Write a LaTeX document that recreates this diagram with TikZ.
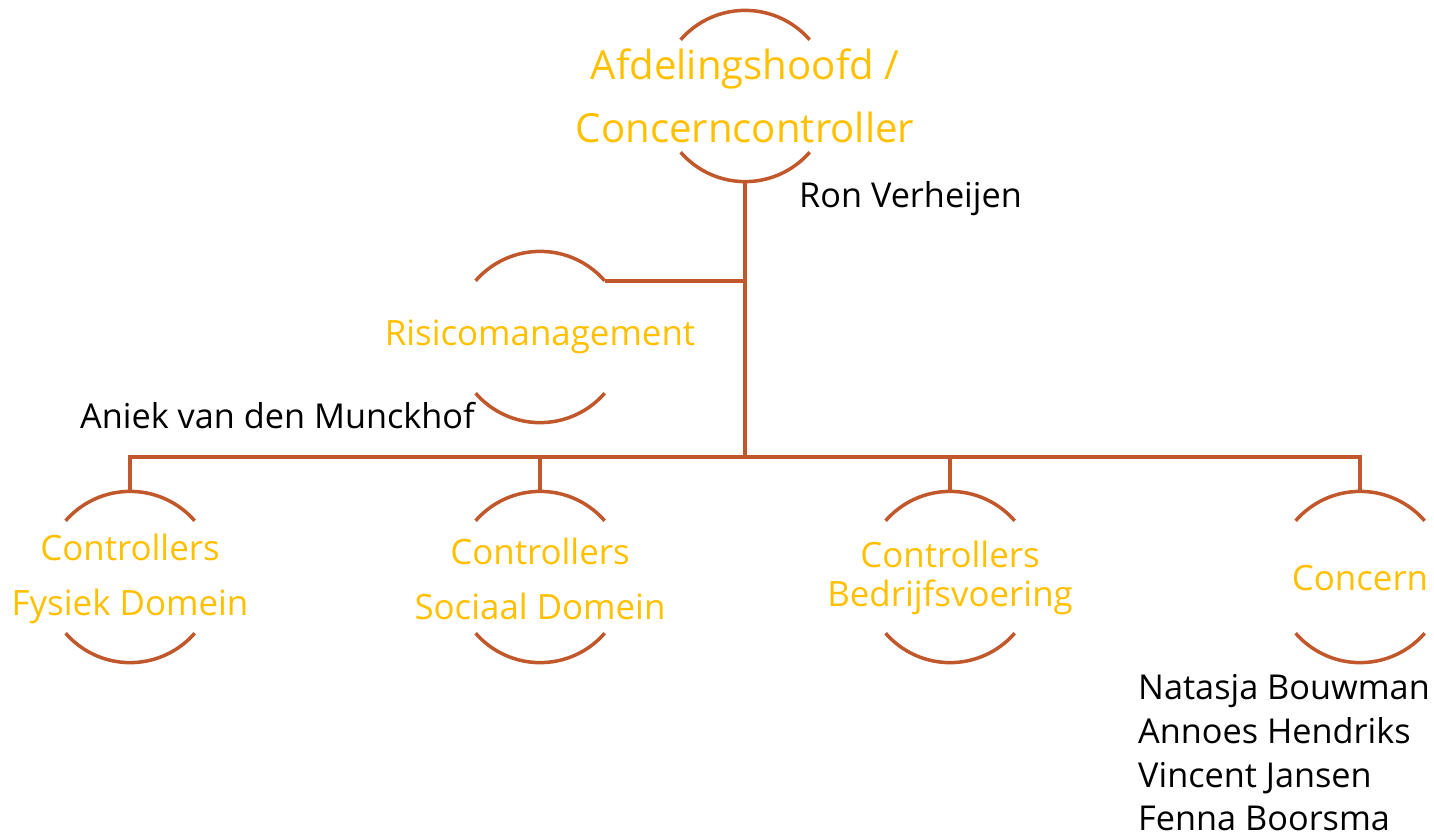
\documentclass[tikz,border=0pt]{standalone}
\usepackage{fontspec}
\setmainfont{Open Sans}
\definecolor{linebrown}{HTML}{C0582C}
\definecolor{ylw}{HTML}{FFC000}
\begin{document}
\begin{tikzpicture}[x=1bp,y=-1bp,
  ring/.style={circle,minimum size=171bp,inner sep=0pt,draw=none},
  conn/.style={draw=linebrown,line width=3.5bp},
  ylabel/.style={text=ylw,align=center,inner sep=0pt,font=\fontsize{35}{56}\selectfont},
  person/.style={text=black,align=left,inner sep=0pt,font=\fontsize{34.4}{44}\selectfont}]
\useasboundingbox (0,0) rectangle (1434,837);
% ring centres
\node[ring] (top) at (745,96) {};
\node[ring] (risk) at (540,337) {};
\node[ring] (fys) at (130,577) {};
\node[ring] (soc) at (540,577) {};
\node[ring] (bed) at (950,577) {};
\node[ring] (con) at (1360,577) {};
\coordinate (bus) at (745,457);
% arcs
\foreach \n in {top,risk,fys,soc,bed,con}{
  \draw[conn] (\n.41) arc[start angle=41,end angle=139,radius=85.5bp];
  \draw[conn] (\n.-41) arc[start angle=-41,end angle=-139,radius=85.5bp];
}
% connectors
\draw[conn] (top.south) -- (bus);
\draw[conn] (risk.41) -- (risk.41 -| top.south);
\draw[conn] (fys.north) |- (bus) -| (con.north);
\draw[conn] (soc.north) -- (soc.north |- bus);
\draw[conn] (bed.north) -- (bed.north |- bus);
% labels
\node[ylabel,font=\fontsize{40.3}{63}\selectfont] (toptxt) at (745,96) {Afdelingshoofd /\\Concerncontroller};
\node[ylabel] (risktxt) at (540,337) {Risicomanagement};
\node[ylabel] (fystxt) at (130,579) {Controllers\\Fysiek Domein};
\node[ylabel] (soctxt) at (540,579) {Controllers\\Sociaal Domein};
\node[ylabel,font=\fontsize{35}{40}\selectfont] (bedtxt) at (950,578) {Controllers\\Bedrijfsvoering};
\node[ylabel] (contxt) at (1360,578) {Concern};
% person names
\node[person,anchor=west] (ron) at (799,199) {Ron Verheijen};
\node[person,anchor=west] (aniek) at (80,416) {Aniek van den Munckhof};
\node[person,anchor=north west] (team) at (1138,674) {Natasja Bouwman\\Annoes Hendriks\\Vincent Jansen\\Fenna Boorsma};
\end{tikzpicture}
\end{document}
